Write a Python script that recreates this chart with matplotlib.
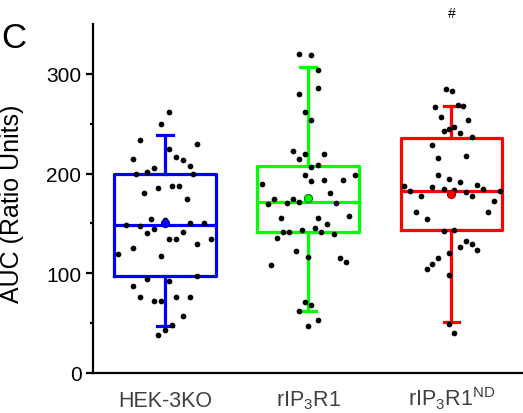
import matplotlib
matplotlib.use("Agg")
import matplotlib.pyplot as plt

plt.rcParams['font.family'] = ['Liberation Sans', 'DejaVu Sans']
plt.rcParams['mathtext.fontset'] = 'custom'
plt.rcParams['mathtext.rm'] = 'Liberation Sans'
plt.rcParams['mathtext.it'] = 'Liberation Sans:italic'
plt.rcParams['mathtext.bf'] = 'Liberation Sans:bold'

# ---------------- data ----------------
categories = ["HEK-3KO", r"rIP$_\mathregular{3}$R1", r"rIP$_\mathregular{3}$R1$^\mathregular{ND}$"]
colors = ["#0000ff", "#00ff00", "#ff0000"]
mean_edge = ["#0000aa", "#008800", "#aa0000"]

# box statistics
q1 = [97, 141, 143]
median = [148, 171, 183]
q3 = [200, 208, 236]
whislo = [47, 62, 51]
whishi = [239, 307, 268]
means = [150, 176, 180]

# individual points: values and horizontal jitter offsets
blue_vals = [261.8, 250.1, 233.7, 229.7, 214.3, 224.6, 216.9, 213.9, 207.2, 205.2,
             201.9, 199.2, 199.9, 180.1, 185.1, 187.5, 187.1, 174.8, 154.0, 153.0,
             148.0, 147.3, 150.0, 150.0, 144.6, 140.6, 134.6, 133.9, 141.3, 133.9,
             125.5, 128.9, 119.5, 117.8, 97.1, 94.4, 92.7, 87.4, 76.0, 72.0,
             72.0, 76.7, 76.7, 56.9, 43.2, 48.2, 38.2]
blue_jit = [0.026, -0.026, -0.177, 0.225, -0.225, 0.026, 0.077, 0.125, 0.177, -0.077,
            -0.128, -0.202, 0.197, -0.146, -0.049, 0.049, 0.100, 0.151, -0.100, 0.0,
            -0.272, -0.174, 0.177, 0.276, -0.077, -0.125, 0.026, 0.077, 0.125, 0.325,
            -0.225, 0.223, -0.328, -0.026, 0.225, -0.125, 0.026, -0.225, -0.174, -0.077,
            -0.026, 0.077, 0.177, 0.125, 0.0, 0.049, -0.049]

green_vals = [320.1, 318.7, 303.7, 285.9, 279.9, 261.5, 254.1, 222.3, 219.3, 214.3,
              220.0, 206.9, 208.9, 189.2, 198.2, 192.2, 193.8, 193.8, 198.9, 174.8,
              169.1, 170.7, 174.8, 171.4, 180.4, 170.1, 155.3, 155.0, 149.3, 157.0,
              145.6, 141.6, 141.6, 143.6, 141.6, 138.9, 135.3, 122.5, 116.8, 115.8,
              111.8, 108.5, 71.3, 68.3, 62.6, 47.5, 53.6]
green_jit = [-0.063, 0.021, 0.067, 0.067, -0.063, -0.021, 0.021, -0.109, -0.021, -0.063,
             0.114, 0.021, 0.067, -0.323, -0.021, 0.021, 0.114, 0.244, 0.328, -0.239,
             -0.281, -0.151, -0.109, -0.063, 0.156, 0.197, -0.193, 0.067, 0.132, 0.286,
             0.049, -0.174, -0.132, -0.044, 0.091, 0.179, -0.216, -0.086, 0.002, 0.221,
             0.262, -0.262, -0.021, 0.021, -0.063, 0.002, 0.067]

red_vals = [285.2, 283.2, 266.5, 269.2, 268.2, 256.4, 254.1, 242.7, 245.1, 246.4,
            240.4, 237.0, 228.3, 217.3, 215.6, 198.2, 194.5, 191.8, 188.8, 184.1,
            187.1, 182.1, 177.1, 186.5, 184.1, 183.1, 181.1, 177.1, 182.1, 172.7,
            161.0, 161.0, 154.3, 142.3, 143.3, 132.6, 128.9, 126.5, 123.2, 120.5,
            115.2, 109.5, 104.1, 97.8, 49.2, 39.8]
red_jit = [-0.035, 0.002, -0.114, 0.044, 0.081, -0.072, 0.118, -0.053, -0.016, 0.021,
           0.063, 0.142, -0.132, 0.100, -0.091, -0.091, -0.016, 0.063, 0.179, 0.221,
           -0.328, -0.286, -0.211, -0.132, -0.053, 0.021, 0.100, 0.142, 0.337, 0.295,
           0.258, -0.249, -0.170, -0.053, 0.021, 0.100, 0.142, 0.063, 0.179, -0.016,
           -0.091, -0.132, -0.170, -0.016, -0.016, 0.021]

point_vals = [blue_vals, green_vals, red_vals]
point_jit = [blue_jit, green_jit, red_jit]

yticks = [0, 100, 200, 300]
yminor = [50, 150, 250]

# ---------------- figure ----------------
W, H = 523, 414
fig = plt.figure(figsize=(W / 100, H / 100), dpi=100)
ax = fig.add_axes([93.3 / W, (H - 374) / H, 1 - 93.3 / W, (374 - 25) / H])

positions = [1, 2, 3]
lw = 2.3
for i, pos in enumerate(positions):
    stats = [dict(q1=q1[i], med=median[i], q3=q3[i], whislo=whislo[i],
                  whishi=whishi[i], mean=means[i], fliers=[])]
    c = colors[i]
    ax.bxp(stats, positions=[pos], widths=0.71, capwidths=0.11,
           showmeans=False, showfliers=False, manage_ticks=False,
           boxprops=dict(color=c, linewidth=lw),
           whiskerprops=dict(color=c, linewidth=lw),
           capprops=dict(color=c, linewidth=lw),
           medianprops=dict(color=c, linewidth=lw))
    xs = [pos + j for j in point_jit[i]]
    ax.scatter(xs, point_vals[i], s=17, color='black', zorder=5, linewidths=0)
    ax.scatter([pos], [means[i]], s=34, color=c, edgecolors=mean_edge[i],
               linewidths=0.8, zorder=6)

ax.set_xlim(0.5, 3.5)
ax.set_ylim(0, 350)

for s in ['top', 'right']:
    ax.spines[s].set_visible(False)
ax.spines['left'].set_linewidth(1.6)
ax.spines['bottom'].set_linewidth(1.6)

ax.set_yticks(yticks)
ax.set_yticks(yminor, minor=True)
ax.tick_params(axis='y', which='major', length=5, width=1.6, pad=3.5,
               labelsize=15, direction='out')
ax.tick_params(axis='y', which='minor', length=2.5, width=1.6, direction='out')

ax.set_xticks(positions)
ax.set_xticklabels(categories)
ax.tick_params(axis='x', length=0, pad=23.5, labelsize=15.5, labelcolor='#404040')
for lab in ax.get_xticklabels():
    lab.set_verticalalignment('baseline')

fig.text(0.5 / W, (H - 204) / H, "AUC (Ratio Units)", rotation=90,
         ha='left', va='center', fontsize=18)
fig.text(1.5 / W, (H - 48) / H, "C", ha='left', va='baseline', fontsize=25)
ax.text(3, 357, "#", ha='center', va='baseline', fontsize=10, clip_on=False)

fig.savefig("out.png", dpi=100)
